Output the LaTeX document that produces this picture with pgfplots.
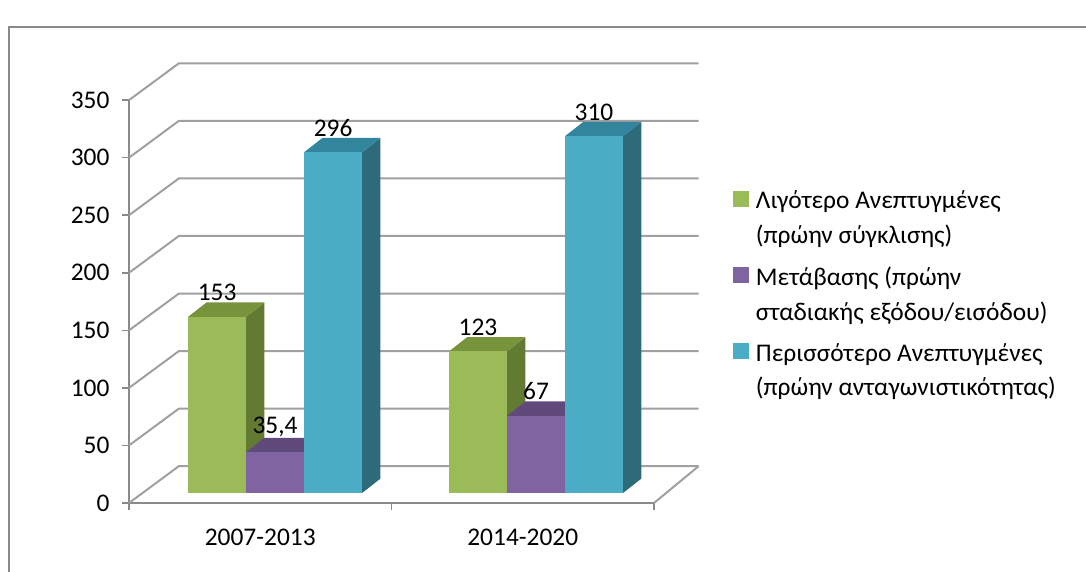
\documentclass[border=0pt]{standalone}
\usepackage{fontspec}
\setmainfont{Carlito}
\usepackage{pgfplots}
\pgfplotsset{compat=1.18}
\definecolor{gfront}{HTML}{9BBB59}
\definecolor{gtop}{HTML}{77933C}
\definecolor{gside}{HTML}{637A32}
\definecolor{pfront}{HTML}{8064A2}
\definecolor{ptop}{HTML}{604A7B}
\definecolor{pside}{HTML}{4F3C66}
\definecolor{bfront}{HTML}{4BACC6}
\definecolor{btop}{HTML}{31859C}
\definecolor{bside}{HTML}{2E6B7A}
\definecolor{gridc}{HTML}{A0A0A0}
\definecolor{framec}{HTML}{8A8A8A}
% bar geometry (axis units)
\def\bw{0.221}\def\dx{0.07}\def\dy{12.5}\def\yb{8.7}
\newcommand{\cuboid}[6]{%
  \pgfmathsetmacro\xa{#1}%
  \pgfmathsetmacro\xb{#1+\bw}%
  \pgfmathsetmacro\xc{#1+\bw+\dx}%
  \pgfmathsetmacro\xd{#1+\dx}%
  \pgfmathsetmacro\ya{\yb}%
  \pgfmathsetmacro\yt{\yb+#2}%
  \pgfmathsetmacro\ybb{\yb+\dy}%
  \pgfmathsetmacro\ytt{\yb+#2+\dy}%
  \pgfmathsetmacro\xm{#1+\bw/2}%
  \addplot[fill=#5,draw=none,forget plot] coordinates {(\xb,\ya) (\xc,\ybb) (\xc,\ytt) (\xb,\yt)} -- cycle;
  \addplot[fill=#4,draw=none,forget plot] coordinates {(\xa,\yt) (\xb,\yt) (\xc,\ytt) (\xd,\ytt)} -- cycle;
  \addplot[fill=#3,draw=none,forget plot] coordinates {(\xa,\ya) (\xb,\ya) (\xb,\yt) (\xa,\yt)} -- cycle;
  \addplot[draw=none,mark=none,forget plot,nodes near coords={#6},
    every node near coord/.style={anchor=south,yshift=-2bp,text=black}] coordinates {(\xm,\ytt)};
}
\begin{document}
\begin{tikzpicture}[font=\fontsize{25.5}{31}\selectfont]
\useasboundingbox (-129bp,-69bp) rectangle (957bp,503bp);
\draw[color=framec, line width=2bp] (-120bp,476bp) rectangle (990bp,-120bp);
\begin{axis}[at={(0,0)}, anchor=south west, scale only axis,
  x=262.5bp, y=1.151bp, xmin=0, xmax=2, ymin=0, ymax=350, clip=false,
  axis x line=bottom, axis y line=left,
  axis line style={-, draw=framec, line width=1.5bp},
  tick style={draw=framec, line width=1.5bp},
  tick align=outside, major tick length=7bp,
  ytick={0,50,...,350},
  yticklabel style={xshift=-9bp},
  xtick={0,1,2}, xticklabels={},
  extra x ticks={0.5,1.5},
  extra x tick labels={2007-2013,2014-2020},
  extra x tick style={major tick length=0bp, xticklabel style={yshift=-22bp}},
  /pgf/number format/assume math mode=true,
  ticklabel style={font=\fontsize{25.5}{31}\selectfont, text=black},
  legend style={at={(axis cs:2.30,273)}, anchor=north west, draw=none, fill=none,
    cells={anchor=west, align=left, font=\fontsize{25.5}{35}\selectfont},
    row sep=17.5bp, inner sep=0pt, column sep=5bp,
    font=\fontsize{25.5}{35}\selectfont, text=black},
  legend image code/.code={\path[draw=none,fill=none] (0bp,-27bp) -- (0bp,27bp);\fill[#1,draw=none] (0bp,11bp) rectangle (16bp,27bp);},
]
\addlegendimage{fill=gfront}
\addlegendentry{Λιγότερο Ανεπτυγμένες\\(πρώην σύγκλισης)}
\addlegendimage{fill=pfront}
\addlegendentry{Μετάβασης (πρώην\\σταδιακής εξόδου/εισόδου)}
\addlegendimage{fill=bfront}
\addlegendentry{Περισσότερο Ανεπτυγμένες\\(πρώην ανταγωνιστικότητας)}
\pgfplotsinvokeforeach{0,50,...,350}{
  \draw[gridc, line width=2bp] (axis cs:0,#1) -- (axis cs:0.19,#1+32) -- (axis cs:2.17,#1+32);
}
\draw[gridc, line width=2bp] (axis cs:2,0) -- (axis cs:2.17,32);
% 2007-2013
\cuboid{0.225}{153}{gfront}{gtop}{gside}{153}
\cuboid{0.446}{35.4}{pfront}{ptop}{pside}{35,4}
\cuboid{0.667}{296}{bfront}{btop}{bside}{296}
% 2014-2020
\cuboid{1.219}{123}{gfront}{gtop}{gside}{123}
\cuboid{1.440}{67}{pfront}{ptop}{pside}{67}
\cuboid{1.661}{310}{bfront}{btop}{bside}{310}
\end{axis}
\end{tikzpicture}
\end{document}
